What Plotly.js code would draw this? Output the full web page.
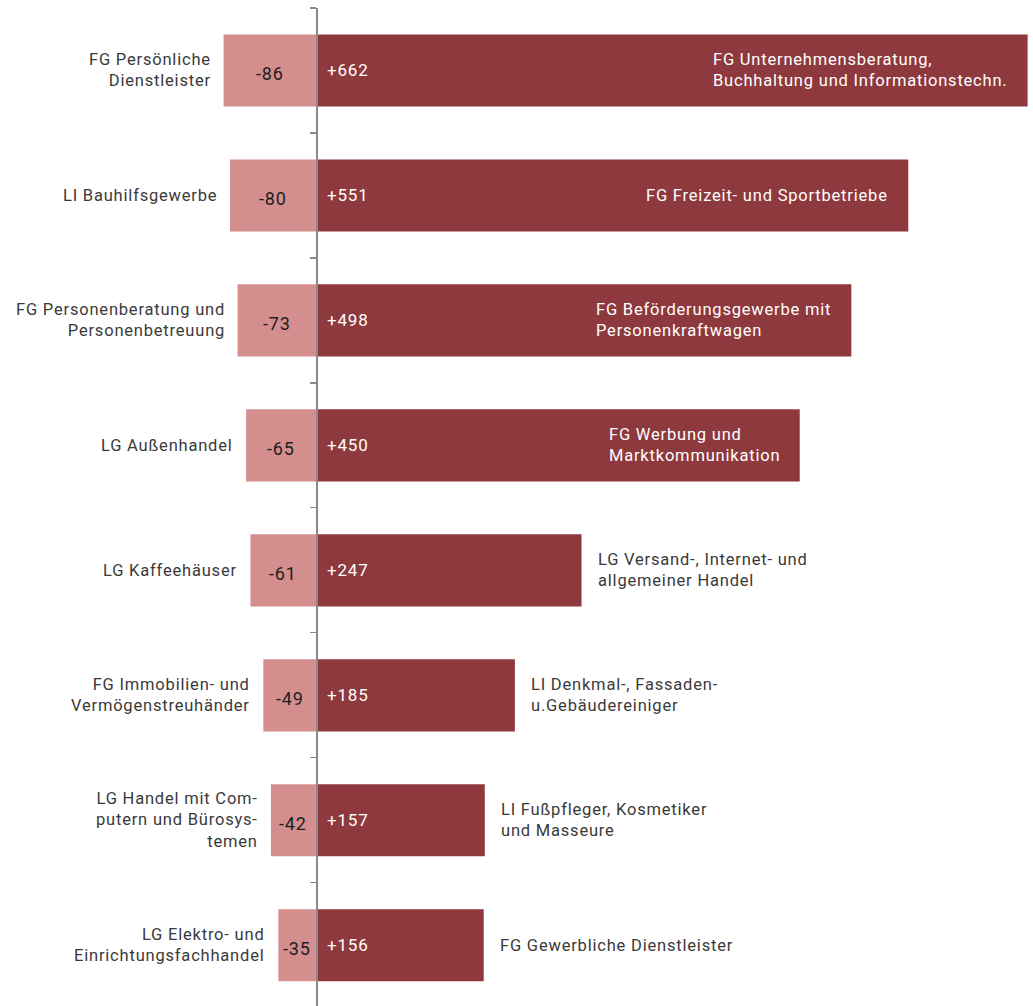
<!DOCTYPE html>
<html>
<head>
<meta charset="utf-8">
<script src="https://cdn.plot.ly/plotly-3.0.1.min.js"></script>
<style>
html,body{margin:0;padding:0;background:#fff}
#chart{width:1033px;height:1006px}
text.annotation-text{letter-spacing:0.8px}
</style>
</head>
<body>
<div id="chart"></div>
<script>
const leftLabels = [
  "FG Persönliche<br>Dienstleister",
  "LI Bauhilfsgewerbe",
  "FG Personenberatung und<br>Personenbetreuung",
  "LG Außenhandel",
  "LG Kaffeehäuser",
  "FG Immobilien- und<br>Vermögenstreuhänder",
  "LG Handel mit Com-<br>putern und Bürosys-<br>temen",
  "LG Elektro- und<br>Einrichtungsfachhandel"
];
const negValues = [-86, -80, -73, -65, -61, -49, -42, -35];
const posValues = [662, 551, 498, 450, 247, 185, 157, 156];
const rightLabels = [
  "FG Unternehmensberatung,<br>Buchhaltung und Informationstechn.",
  "FG Freizeit- und Sportbetriebe",
  "FG Beförderungsgewerbe mit<br>Personenkraftwagen",
  "FG Werbung und<br>Marktkommunikation",
  "LG Versand-, Internet- und<br>allgemeiner Handel",
  "LI Denkmal-, Fassaden-<br>u.Gebäudereiniger",
  "LI Fußpfleger, Kosmetiker<br>und Masseure",
  "FG Gewerbliche Dienstleister"
];

const idx = negValues.map((_, i) => i);
const FONT = "Roboto, 'Open Sans', sans-serif";
const DARK = "#8e393d";
const LIGHT = "#d48e8e";

const traces = [
  {type: "bar", orientation: "h", y: idx, x: negValues, width: 0.577,
   marker: {color: LIGHT, line: {width: 0}}, hoverinfo: "skip"},
  {type: "bar", orientation: "h", y: idx, x: posValues, width: 0.577,
   marker: {color: DARK, line: {width: 0}}, hoverinfo: "skip"}
];

const ann = [];
idx.forEach(i => {
  ann.push({x: negValues[i], y: i, text: leftLabels[i], showarrow: false,
    xanchor: "right", align: "right", xshift: -11,
    font: {family: FONT, size: 16.5, color: "#3a3a3a"}});
  ann.push({x: negValues[i] / 2, y: i, text: String(negValues[i]), showarrow: false,
    xanchor: "center", yshift: -3, font: {family: FONT, size: 18, color: "#1e1e1e"}});
  ann.push({x: 0, y: i, text: "+" + posValues[i], showarrow: false,
    xanchor: "left", xshift: 9, font: {family: FONT, size: 17, color: "#ffffff"}});
  const inside = posValues[i] > 300;
  ann.push({x: posValues[i], y: i, text: rightLabels[i], showarrow: false,
    xanchor: inside ? "right" : "left", align: "left", xshift: inside ? -18 : 14,
    font: {family: FONT, size: 16.5, color: inside ? "#ffffff" : "#3a3a3a"}});
});

const xmin = -294, xmax = 667;
const layout = {
  width: 1033, height: 1006,
  margin: {l: 0, r: 0, t: 8, b: 0},
  paper_bgcolor: "#ffffff", plot_bgcolor: "#ffffff",
  showlegend: false, barmode: "overlay",
  xaxis: {range: [xmin, xmax], visible: false, fixedrange: true},
  yaxis: {range: [7.486, -0.5], anchor: "free", position: (0 - xmin) / (xmax - xmin),
    showline: true, linecolor: "#8a8a8a", linewidth: 1.5,
    ticks: "outside", ticklen: 6, tickcolor: "#8a8a8a", tickwidth: 1.2,
    tickmode: "array", tickvals: idx.map(i => i - 0.5),
    showticklabels: false, showgrid: false, zeroline: false, fixedrange: true},
  annotations: ann
};

Plotly.newPlot("chart", traces, layout, {displayModeBar: false, staticPlot: true});
</script>
</body>
</html>
